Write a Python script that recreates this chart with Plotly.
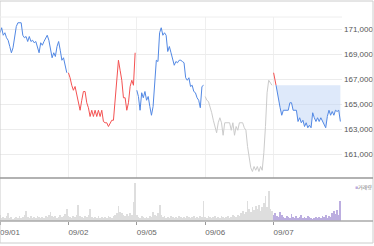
import plotly.graph_objects as go

day_labels = ["09/01", "09/02", "09/05", "09/06", "09/07"]

price_0901 = [170700, 171100, 170500, 170700, 170300, 170100, 169600, 169100, 169500, 170500,
              171200, 171500, 171500, 171500, 170500, 170300, 170400, 170000, 170400, 170000,
              170100, 169900, 170000, 169600, 169100, 169900, 169700, 170000, 170300, 170500,
              170100, 169300, 168700, 169100, 168800, 169600, 170000, 169300, 168500, 168700,
              168000, 167500]
price_0902 = [167500, 167100, 166500, 166100, 166400, 165700, 165300, 164500, 165300, 166000,
              166000, 165100, 164700, 164000, 164500, 164000, 164500, 164000, 164500, 164000,
              164500, 163600, 163500, 163500, 163200, 163500, 163700, 163700, 165500, 167500,
              168500, 167700, 166900, 165500, 165500, 164500, 165100, 166400, 166900, 166500,
              169100]
price_0905 = [166100, 165600, 164500, 165900, 165500, 166000, 165300, 165600, 164800, 164100,
              164800, 166900, 168500, 168400, 170700, 171100, 170500, 170700, 170500, 169200,
              169600, 169100, 168500, 168100, 168400, 168300, 168500, 168500, 168400, 168300,
              167100, 166900, 167100, 166400, 166500, 166000, 165900, 165500, 165300, 164700,
              166400, 166500]
price_0906 = [165600, 165300, 165200, 164800, 164300, 163700, 163200, 162700, 163500, 163900,
              163500, 162500, 163500, 163500, 163500, 163500, 162900, 163500, 162500, 163200,
              162900, 163500, 163500, 163500, 163100, 162900, 161600, 160500, 159900, 159600,
              160000, 159700, 160000, 159600, 160000, 159700, 161100, 163200, 165900, 166900,
              166700, 166500]
price_0907 = [167500, 166900, 166100, 165300, 164700, 164100, 164500, 164500, 164500, 164500,
              165100, 165100, 164500, 164500, 164500, 163600, 163900, 163500, 163700, 163200,
              163500, 163100, 163300, 163100, 164300, 163900, 163600, 163900, 163600, 163900,
              163600, 163300, 163100, 164000, 164500, 164100, 164400, 164100, 164500, 164400,
              164500, 163600]
prev_close = 166500

vol_0901 = [6, 3, 4, 3, 5, 8, 3, 4, 2, 3, 4, 3, 5, 3, 4, 6, 10, 4, 3, 5, 3, 4, 3, 5, 4, 3, 4, 3,
            5, 4, 6, 9, 5, 4, 5, 3, 4, 6, 4, 5, 7, 12]
vol_0902 = [5, 4, 3, 5, 4, 6, 16, 5, 4, 3, 5, 4, 6, 12, 4, 3, 4, 3, 5, 3, 4, 3, 4, 3, 5, 4, 3, 5,
            6, 8, 15, 9, 8, 6, 5, 7, 5, 8, 6, 19, 38]
vol_0905 = [6, 4, 3, 5, 4, 3, 4, 3, 5, 4, 9, 6, 5, 8, 16, 6, 4, 5, 3, 4, 3, 5, 4, 3, 4, 3, 5, 4,
            3, 4, 3, 5, 4, 3, 4, 5, 3, 4, 3, 5, 4, 20]
vol_0906 = [4, 3, 5, 4, 3, 4, 5, 3, 4, 3, 5, 4, 3, 4, 5, 3, 4, 6, 5, 4, 6, 5, 8, 10, 7, 9, 20, 12,
            9, 14, 11, 15, 12, 16, 10, 14, 18, 25, 14, 30, 12, 10]
vol_0907 = [6, 8, 5, 4, 9, 6, 4, 3, 5, 4, 3, 7, 4, 3, 5, 3, 4, 6, 3, 4, 3, 5, 4, 3, 2, 3, 4, 3,
            4, 3, 5, 4, 6, 3, 5, 4, 8, 10, 7, 11, 6, 20]
vol_unit = 1000  # shares

BLUE = "#5288e4"
RED = "#f45252"
GREY = "#cbcbcb"
VOL_GREY = "#dedede"
VOL_PURPLE = "#bcaee0"

days = [price_0901, price_0902, price_0905, price_0906, price_0907]
vols = [vol_0901, vol_0902, vol_0905, vol_0906, vol_0907]
colors = [BLUE, RED, BLUE, GREY, None]


def xs_for(d, arr):
    n = len(arr)
    return [d + i / n for i in range(n)]


fig = go.Figure()

for d, arr in enumerate(days[:4]):
    fig.add_trace(go.Scatter(x=xs_for(d, arr), y=arr, mode="lines",
                             line=dict(color=colors[d], width=1), showlegend=False,
                             hoverinfo="skip"))

# last day: red above previous close, blue below with fill
x5 = xs_for(4, price_0907)
k = next(i for i, v in enumerate(price_0907) if v < prev_close)
t = (price_0907[k - 1] - prev_close) / (price_0907[k - 1] - price_0907[k])
xc = x5[k - 1] + t * (x5[k] - x5[k - 1])
fig.add_trace(go.Scatter(x=x5[:k] + [xc], y=price_0907[:k] + [prev_close], mode="lines",
                         line=dict(color=RED, width=1), showlegend=False, hoverinfo="skip"))
bx = [xc] + x5[k:]
by = [prev_close] + price_0907[k:]
fig.add_trace(go.Scatter(x=bx, y=[prev_close] * len(bx), mode="lines",
                         line=dict(width=0, color="rgba(0,0,0,0)"), showlegend=False,
                         hoverinfo="skip"))
fig.add_trace(go.Scatter(x=bx, y=by, mode="lines", line=dict(color=BLUE, width=1),
                         fill="tonexty", fillcolor="rgba(190,212,246,0.5)",
                         showlegend=False, hoverinfo="skip"))

for d, v in enumerate(vols):
    fig.add_trace(go.Bar(x=xs_for(d, v), y=[a * vol_unit for a in v],
                         width=0.5 / len(v),
                         marker=dict(color=VOL_PURPLE if d == 4 else VOL_GREY, line_width=0),
                         xaxis="x2", yaxis="y2", showlegend=False, hoverinfo="skip"))

W, H = 374, 246
ml, mr, mt, mb = 0, 32, 17, 25
pw, ph = W - ml - mr, H - mt - mb
split = (221 - 178) / ph

FONT = "Liberation Sans, Arial, sans-serif"

fig.update_layout(
    width=W, height=H, margin=dict(l=ml, r=mr, t=mt, b=mb, autoexpand=False),
    paper_bgcolor="white", plot_bgcolor="white",
    bargap=0,
    xaxis=dict(domain=[0, 1], range=[0, 5], tickvals=[0, 1, 2, 3, 4], showticklabels=False,
               showgrid=True, gridcolor="#efefef", gridwidth=1, zeroline=False, ticks="",
               anchor="y"),
    yaxis=dict(domain=[split, 1], range=[159080, 171960], side="right",
               tickvals=[161000, 163000, 165000, 167000, 169000, 171000], tickformat=",",
               showgrid=True, gridcolor="#ececec", zeroline=False, ticks="", automargin=False,
               ticklabelstandoff=1,
               tickfont=dict(family=FONT, size=8, color="#555"), anchor="x"),
    xaxis2=dict(domain=[0, 1], range=[0, 5], matches="x", tickvals=[0, 1, 2, 3, 4],
                ticktext=day_labels, showgrid=False, zeroline=False, ticks="outside",
                ticklen=3, tickcolor="#999", ticklabelshift=10, ticklabeloverflow="allow",
                automargin=False,
                tickfont=dict(family=FONT, size=8, color="#666"), anchor="y2"),
    yaxis2=dict(domain=[0, split], range=[0, 43 * vol_unit], showgrid=False, zeroline=False,
                showticklabels=False, ticks="", anchor="x2"),
)

right = (W - 1 - ml) / pw
top = (H - mb - 1) / ph
bottom = -(243 - (H - mb)) / ph
fig.add_shape(type="rect", xref="paper", yref="paper", x0=0, x1=right, y0=bottom, y1=top,
              line=dict(color="#cccccc", width=1), layer="above")
fig.add_shape(type="line", xref="paper", yref="paper", x0=0, x1=1, y0=1, y1=1,
              line=dict(color="#eeeeee", width=1))
fig.add_shape(type="line", xref="paper", yref="paper", x0=0, x1=right, y0=split, y1=split,
              line=dict(color="#999999", width=1.5))
fig.add_shape(type="line", xref="paper", yref="paper", x0=0, x1=right, y0=0, y1=0,
              line=dict(color="#aaaaaa", width=1.5))

fig.add_annotation(xref="paper", yref="paper", x=353 / pw, y=split * 0.68, text="■",
                   showarrow=False, font=dict(size=5, color=VOL_PURPLE), xanchor="left")
fig.add_annotation(xref="paper", yref="paper", x=357 / pw, y=split * 0.68, text="거래량",
                   showarrow=False, font=dict(family="Noto Sans CJK KR", size=5, color="#777"),
                   xanchor="left", borderpad=0)

fig.write_html("out.html")
